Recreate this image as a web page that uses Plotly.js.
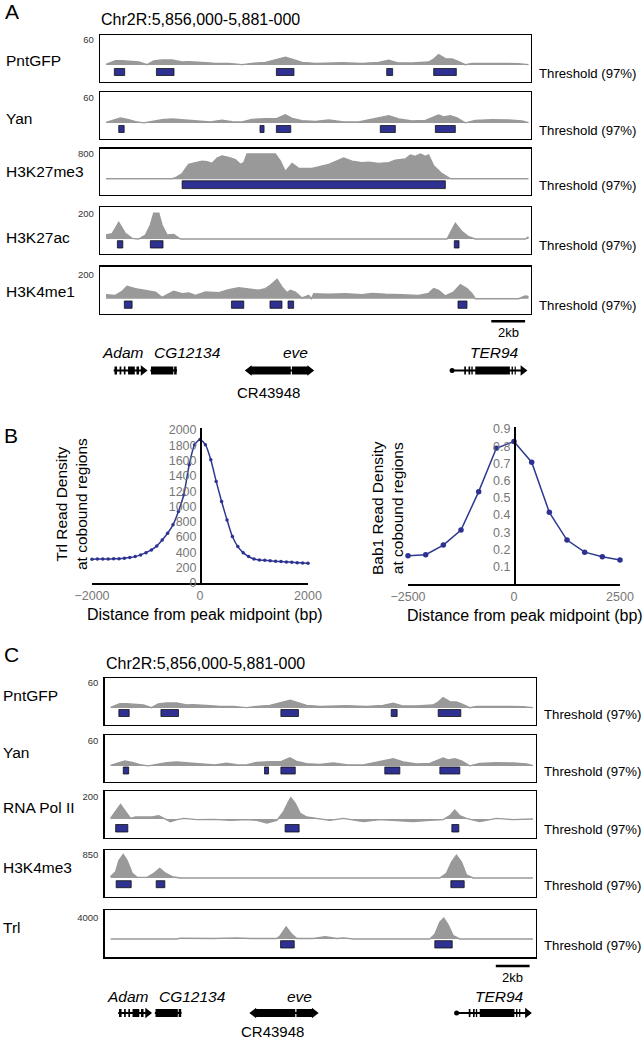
<!DOCTYPE html>
<html><head><meta charset="utf-8">
<script src="https://cdn.plot.ly/plotly-3.0.1.min.js"></script>
<style>html,body{margin:0;padding:0;background:#fff}#chart{width:644px;height:1041px}</style>
</head><body><div id="chart"></div>
<script>
// ---------------- DATA ----------------
const regionTitle = 'Chr2R:5,856,000-5,881-000';
// PntGFP (kb from region start, signal)
const pntKb  = [0,0.55,0.95,1.54,1.94,2.43,2.82,3.31,3.91,4.5,4.89,5.68,6.47,7.26,8.05,8.64,9.43,10.12,10.62,11.1,11.6,12.39,13.18,13.96,15.15,16.13,16.73,17.22,18.11,19.09,19.39,19.68,20.08,20.47,20.77,21.26,21.66,22.64,23.63,24.42,25];
const pntVal = [1.6,10.4,10.4,8.8,7.2,0.8,9.6,12,12,7.2,8,6.4,4,4,0.8,4,6.4,13.6,18.4,12.8,6.4,4,4.8,5.6,4,6.4,11.2,5.6,4.8,7.2,14.4,24.8,15.2,14.4,9.6,0.8,4,4.8,4,3.2,0.8];
const pntPeakStart = [0.49,2.98,10.08,16.61,19.39];
const pntPeakEnd   = [1.10,4.02,11.12,16.96,20.73];
// Yan
const yanKb  = [0,0.36,0.85,1.34,1.74,2.23,2.72,3.31,3.91,4.5,5.09,5.68,6.17,6.86,7.46,8.05,8.64,9.43,10.12,10.61,11.01,11.6,12.39,13.18,13.96,14.95,15.94,16.73,17.32,18.11,18.9,19.49,19.68,19.98,20.37,20.77,21.26,21.85,22.84,23.83,24.62,25];
const yanVal = [1.6,5.6,12,8,3.2,0.4,4,8,9.6,8,6.4,4,2.4,6.4,3.2,2.4,8.8,10.4,11.2,20,11.2,5.6,4,7.2,3.2,2.4,10.4,17.6,9.6,4.8,6.4,16,19.2,14.4,17.6,12,0.4,6.4,8,7.2,4.8,0.8];
const yanPeakStart = [0.75,9.11,10.08,16.23,19.49];
const yanPeakEnd   = [1.07,9.35,10.93,17.12,20.67];
// H3K27me3
const k27me3Kb  = [0,3.91,4.1,4.5,4.69,4.89,5.29,5.68,5.98,6.27,6.57,6.86,7.26,7.65,7.95,8.15,8.34,10.02,10.32,10.61,11.01,11.4,12.19,13.18,14.06,14.56,15.15,15.54,16.13,16.73,17.12,17.71,18.01,18.3,18.6,18.9,19.09,19.39,19.88,20.37,25];
const k27me3Val = [20,20,49,178,326,474,524,573,553,504,672,741,692,622,474,524,800,800,573,247,504,346,346,474,672,573,524,543,504,524,603,642,771,721,800,721,771,425,178,20,20];
const k27me3PeakStart = [4.5];
const k27me3PeakEnd   = [20.08];
// H3K27ac
const k27acKb  = [0,0.36,0.75,1.14,1.54,1.93,2.33,2.62,2.82,3.12,3.31,3.61,4.0,4.4,20.18,20.37,20.67,21.07,21.46,21.85,24.81,25];
const k27acVal = [31,42,130,44,5,0,31,109,200,200,109,31,36,0,0,52,122,57,18,0,0,16];
const k27acPeakStart = [0.67,2.62,20.61];
const k27acPeakEnd   = [0.99,3.37,20.89];
// H3K4me1
const k4me1Kb  = [0,0.55,0.95,1.24,1.74,2.33,2.92,3.31,3.71,4.0,4.5,4.89,5.29,5.88,6.67,7.26,7.85,8.44,9.03,9.43,9.72,10.12,10.41,10.71,10.91,11.2,11.6,11.99,12.15,12.29,13.18,14.16,15.15,15.74,16.53,17.51,18.5,19.09,19.39,19.68,20.08,20.57,20.97,21.36,21.66,21.85,24.42,24.81,25];
const k4me1Val = [34,28,62,104,85,71,56,11,39,62,42,48,28,56,51,76,93,85,71,85,113,164,99,51,71,56,6,28,0,42,37,42,34,45,37,34,28,45,85,71,23,56,118,85,42,0,0,23,20];
const k4me1PeakStart = [1.08,7.42,9.70,10.77,20.83];
const k4me1PeakEnd   = [1.54,8.15,10.41,11.10,21.36];
// RNA Pol II
const polKb  = [0,0.3,0.59,0.89,1.18,1.48,1.97,2.46,2.85,3.15,3.54,3.94,4.33,5.12,6.1,7.09,8.07,8.66,9.25,9.84,10.24,10.53,10.67,10.93,11.22,11.61,12.2,12.99,13.78,14.96,15.94,16.93,17.91,18.9,19.69,20.08,20.37,20.67,21.06,21.85,22.83,23.82,24.8,25];
const polVal = [6,67,133,67,6,18,21,18,30,6,-24,-6,6,-6,-3,-12,-6,-12,-36,-12,67,158,194,142,52,18,6,-12,6,-24,-6,-12,-24,-12,-6,30,82,30,6,-24,6,-6,0,0];
const polPeakStart = [0.30,10.33,20.20];
const polPeakEnd   = [1.02,11.16,20.61];
// H3K4me3
const k4me3Kb  = [0,0.3,0.49,0.75,0.98,1.28,1.57,2.17,2.56,2.91,3.25,3.64,4.13,19.49,19.88,20.18,20.47,20.77,21.06,21.46,25];
const k4me3Val = [58,230,633,850,633,173,23,23,173,345,173,46,0,0,173,575,828,575,115,0,0];
const k4me3PeakStart = [0.33,2.70,20.14];
const k4me3PeakEnd   = [1.22,3.21,20.93];
// Trl
const trlKb  = [0,3.94,4.13,5.12,5.51,6.1,7.48,8.27,9.84,10.04,10.39,10.73,11.02,12.0,12.7,13.39,13.78,14.37,18.9,19.19,19.49,19.72,19.98,20.28,20.67,25];
const trlVal = [0,0,156,104,208,104,208,104,104,624,2288,884,104,104,416,104,208,0,0,884,3224,4000,2704,624,0,0];
const trlPeakStart = [10.06,19.19];
const trlPeakEnd   = [10.87,20.22];
// Genes (kb)
const geneNames  = ['Adam','CG12134','eve','TER94'];
const geneStart  = [0.45,2.62,8.34,20.40];
const geneEnd    = [2.33,4.20,12.19,24.81];
const geneExonStart = [[0.50,0.80,1.05,1.30,1.80],[2.66,4.03],[8.55,11.00],[21.20,21.45,21.62,21.85,24.00,24.18]];
const geneExonEnd   = [[0.65,0.90,1.15,1.70,1.95],[3.98,4.18],[10.93,11.95],[21.30,21.55,21.70,23.90,24.08,24.25]];
const geneArrow  = ['right','none','both','right'];
const otherTranscript = 'CR43948';
const scaleBarKb = [22.8,24.8];
const scaleBarLabel = '2kb';
// Panel B profiles
const trlDistBp = [-2000,-1900,-1800,-1700,-1600,-1500,-1400,-1300,-1200,-1100,-1000,-900,-800,-700,-600,-500,-400,-300,-200,-100,0,100,200,300,400,500,600,700,800,900,1000,1100,1200,1300,1400,1500,1600,1700,1800,1900,2000];
const trlDensity = [312,313,314,314,316,318,323,332,345,367,397,432,485,563,651,760,935,1153,1546,1808,1875,1808,1611,1328,1066,825,607,476,397,345,314,301,297,291,284,280,275,271,266,262,258];
const bab1DistBp = [-2500,-2083,-1667,-1250,-833,-417,0,417,833,1250,1667,2083,2500];
const bab1Density = [0.164,0.170,0.226,0.313,0.536,0.788,0.827,0.707,0.416,0.255,0.185,0.158,0.139];
const trlYTicks = [0,200,400,600,800,1000,1200,1400,1600,1800,2000];
const trlXTicks = [-2000,0,2000];
const babYTicks = [0.1,0.2,0.3,0.4,0.5,0.6,0.7,0.8,0.9];
const babXTicks = [-2500,0,2500];

// ---------------- LAYOUT / DRAW ----------------
const W=644,H=1041;
const FONT='"Liberation Sans", Arial, sans-serif';
const NARROW='"Liberation Sans Narrow", "Liberation Sans", Arial, sans-serif';
const GRAY='#999999', BLUE='#2e3192', NAVY='#2b3990';
const px = v => v/W, py = v => 1 - v/H;
const data=[], shapes=[], annotations=[];
const layout={width:W,height:H,margin:{l:0,r:0,t:0,b:0},paper_bgcolor:'#fff',plot_bgcolor:'rgba(0,0,0,0)',
  showlegend:false,font:{family:FONT,color:'#000'},hovermode:false};
let axN=0;
const KB_RANGE=[-0.36,25.15];
function txt(text,x,y,size,opts){
  annotations.push(Object.assign({text:text,xref:'paper',yref:'paper',x:px(x),y:py(y),xanchor:'left',yanchor:'middle',
    showarrow:false,font:{size:size,family:FONT,color:'#000'},borderpad:0},opts||{}));
}
function addTrack(t,dx){
  axN++; const xa='x'+axN, ya='y'+axN;
  const upp=t.max/(t.base-t.maxY);
  const lo=-(t.bot-t.base)*upp, hi=(t.base-t.top)*upp;
  layout['xaxis'+axN]={domain:[px(100+dx),px(531+dx)],range:KB_RANGE,anchor:ya,showline:true,mirror:true,linecolor:'#000',linewidth:1.3,
    showticklabels:false,ticks:'',showgrid:false,zeroline:false};
  layout['yaxis'+axN]={domain:[py(t.bot),py(t.top)],range:[lo,hi],anchor:xa,showline:true,mirror:true,linecolor:'#000',linewidth:1.3,
    tickvals:[t.max],ticktext:[String(t.max)],ticks:'',ticklabelstandoff:3,tickfont:{size:9.5,color:'#333',family:NARROW},showgrid:false,zeroline:false};
  data.push({type:'scatter',x:t.kb,y:t.val,xaxis:xa,yaxis:ya,mode:'lines',fill:'tozeroy',fillcolor:GRAY,line:{color:GRAY,width:1.4},hoverinfo:'skip'});
  t.s.forEach((s,i)=>shapes.push({type:'rect',xref:xa,yref:'paper',x0:s,x1:t.e[i],y0:py(t.bar[1]),y1:py(t.bar[0]),
    fillcolor:BLUE,line:{color:'#111',width:0.8}}));
  txt(t.name,t.lx,t.lab,15.5);
  txt('Threshold (97%)',538+dx,(t.bar[0]+t.bar[1])/2+1,13.2);
}
function addGenes(dx,glyphY,labY,crY,scaleY,kbY){
  axN++; const xa='x'+axN, ya='y'+axN;
  layout['xaxis'+axN]={domain:[px(100+dx),px(531+dx)],range:KB_RANGE,anchor:ya,visible:false};
  layout['yaxis'+axN]={domain:[py(glyphY+10),py(glyphY-10)],range:[-1,1],anchor:xa,visible:false};
  geneNames.forEach((g,i)=>{
    data.push({type:'scatter',x:[geneStart[i],geneEnd[i]],y:[0,0],xaxis:xa,yaxis:ya,mode:'lines',line:{color:'#000',width:2.2},hoverinfo:'skip'});
    const ex=[],ey=[];
    geneExonStart[i].forEach((s,j)=>{ex.push(s,geneExonEnd[i][j],null);ey.push(0,0,null);});
    data.push({type:'scatter',x:ex,y:ey,xaxis:xa,yaxis:ya,mode:'lines',line:{color:'#000',width:8},hoverinfo:'skip'});
    const mx=[],ms=[];
    if(geneArrow[i]==='right'||geneArrow[i]==='both'){mx.push(geneEnd[i]-0.14);ms.push('triangle-right');}
    if(geneArrow[i]==='left'||geneArrow[i]==='both'){mx.push(geneStart[i]+0.14);ms.push('triangle-left');}
    if(mx.length) data.push({type:'scatter',x:mx,y:mx.map(()=>0),xaxis:xa,yaxis:ya,mode:'markers',marker:{symbol:ms,size:9,color:'#000'},hoverinfo:'skip'});
  });
  // TER94 start knob
  data.push({type:'scatter',x:[geneStart[3]+0.08],y:[0],xaxis:xa,yaxis:ya,mode:'markers',marker:{symbol:'circle',size:5,color:'#000'},hoverinfo:'skip'});
  const lstyle=[{a:'left',o:-0.75,ref:'s'},{a:'left',o:0.18,ref:'s'},{a:'right',o:-0.2,ref:'e'},{a:'right',o:-0.3,ref:'e'}];
  geneNames.forEach((g,i)=>{
    const st=lstyle[i]; const x=(st.ref==='s'?geneStart[i]:geneEnd[i])+st.o;
    annotations.push({text:'<i>'+g+'</i>',xref:xa,yref:'paper',x:x,y:py(labY),xanchor:st.a,yanchor:'middle',showarrow:false,
      font:{size:15.5,family:FONT,color:'#000'},borderpad:0});
  });
  annotations.push({text:otherTranscript,xref:xa,yref:'paper',x:(geneStart[2]+geneEnd[2])/2-0.67,y:py(crY),xanchor:'center',yanchor:'middle',
    showarrow:false,font:{size:15,family:FONT,color:'#000'},borderpad:0});
  shapes.push({type:'line',xref:xa,yref:'paper',x0:scaleBarKb[0],x1:scaleBarKb[1],y0:py(scaleY),y1:py(scaleY),line:{color:'#000',width:2.6}});
  annotations.push({text:scaleBarLabel,xref:xa,yref:'paper',x:(scaleBarKb[0]+scaleBarKb[1])/2,y:py(kbY),xanchor:'center',yanchor:'middle',
    showarrow:false,font:{size:13,family:FONT,color:'#000'},borderpad:0});
}
function addProfile(xs,ys,xd,yd,xr,yr,ypos,xt,yt,mode,msize){
  axN++; const xa='x'+axN, ya='y'+axN;
  layout['xaxis'+axN]={domain:[px(xd[0]),px(xd[1])],range:xr,anchor:ya,showline:true,linecolor:'#000',linewidth:1.5,ticks:'',
    tickvals:xt,tickfont:{size:12.5,color:'#777',family:FONT},showgrid:false,zeroline:false};
  layout['yaxis'+axN]={domain:[py(yd[1]),py(yd[0])],range:yr,anchor:'free',position:px(ypos),showline:true,linecolor:'#000',linewidth:1.5,ticks:'',
    tickvals:yt,tickfont:{size:12.5,color:'#777',family:NARROW},showgrid:false,zeroline:false,ticklabelstandoff:1};
  data.push({type:'scatter',x:xs,y:ys,xaxis:xa,yaxis:ya,mode:'lines+markers',line:{color:NAVY,width:1.5,shape:mode,smoothing:0.6},
    marker:{size:msize,color:BLUE},hoverinfo:'skip',cliponaxis:false});
}

// Panel A
txt('A',4,11,21);
txt(regionTitle,100,20,16);
const tracksA=[
  {name:'PntGFP',kb:pntKb,val:pntVal,s:pntPeakStart,e:pntPeakEnd,max:60,top:35,bot:82,base:65,maxY:40,bar:[68.5,75.5],lab:61,lx:5},
  {name:'Yan',kb:yanKb,val:yanVal,s:yanPeakStart,e:yanPeakEnd,max:60,top:92,bot:138.5,base:123,maxY:98,bar:[125.5,132.5],lab:119,lx:5},
  {name:'H3K27me3',kb:k27me3Kb,val:k27me3Val,s:k27me3PeakStart,e:k27me3PeakEnd,max:800,top:148.5,bot:195,base:179.3,maxY:154,bar:[180.8,188.6],lab:172,lx:5},
  {name:'H3K27ac',kb:k27acKb,val:k27acVal,s:k27acPeakStart,e:k27acPeakEnd,max:200,top:207,bot:253.5,base:239,maxY:213.3,bar:[240.7,248],lab:237,lx:5},
  {name:'H3K4me1',kb:k4me1Kb,val:k4me1Val,s:k4me1PeakStart,e:k4me1PeakEnd,max:200,top:266.5,bot:313.7,base:298.7,maxY:275,bar:[301,308.3],lab:292,lx:5}
];
tracksA.forEach(t=>addTrack(t,0));
addGenes(0,370.5,352,392,321.3,332);

// Panel B
txt('B',3,435,21);
addProfile(trlDistBp,trlDensity,[92,308],[428,583],[-2000,2000],[0,2026],200,trlXTicks,trlYTicks,'spline',3.5);
addProfile(bab1DistBp,bab1Density,[408,620],[426.7,584],[-2500,2500],[0,0.913],514,babXTicks,babYTicks,'linear',5.5);
annotations.push({text:'Trl Read Density<br>at cobound regions',xref:'paper',yref:'paper',x:px(71),y:py(504),xanchor:'center',yanchor:'middle',
  textangle:-90,showarrow:false,font:{size:15.5,family:FONT,color:'#000'},borderpad:0});
annotations.push({text:'Bab1 Read Density<br>at cobound regions',xref:'paper',yref:'paper',x:px(387),y:py(508),xanchor:'center',yanchor:'middle',
  textangle:-90,showarrow:false,font:{size:15.5,family:FONT,color:'#000'},borderpad:0});
txt('Distance from peak midpoint (bp)',205,614,16,{xanchor:'center'});
txt('Distance from peak midpoint (bp)',525,615,16,{xanchor:'center'});

// Panel C
const dxC=4.5;
txt('C',3,654,21);
txt(regionTitle,104.5,663,16);
const tracksC=[
  {name:'PntGFP',kb:pntKb,val:pntVal,s:pntPeakStart,e:pntPeakEnd,max:60,top:678,bot:725,base:708,maxY:683,bar:[709.5,716.5],lab:695,lx:2},
  {name:'Yan',kb:yanKb,val:yanVal,s:yanPeakStart,e:yanPeakEnd,max:60,top:735,bot:782,base:766,maxY:741,bar:[767,774],lab:752,lx:2},
  {name:'RNA Pol II',kb:polKb,val:polVal,s:polPeakStart,e:polPeakEnd,max:200,top:791,bot:837.5,base:819,maxY:797,bar:[824.5,832],lab:807,lx:2},
  {name:'H3K4me3',kb:k4me3Kb,val:k4me3Val,s:k4me3PeakStart,e:k4me3PeakEnd,max:850,top:850,bot:897,base:878,maxY:854.5,bar:[880.7,887.7],lab:867,lx:2},
  {name:'Trl',kb:trlKb,val:trlVal,s:trlPeakStart,e:trlPeakEnd,max:4000,top:910,bot:957.3,base:939,maxY:918,bar:[940.7,948],lab:927,lx:2}
];
tracksC.forEach(t=>addTrack(t,dxC));
addGenes(dxC,1013,996,1031,966,977);

layout.shapes=shapes; layout.annotations=annotations;
Plotly.newPlot('chart',data,layout,{staticPlot:true,displayModeBar:false});
</script></body></html>
